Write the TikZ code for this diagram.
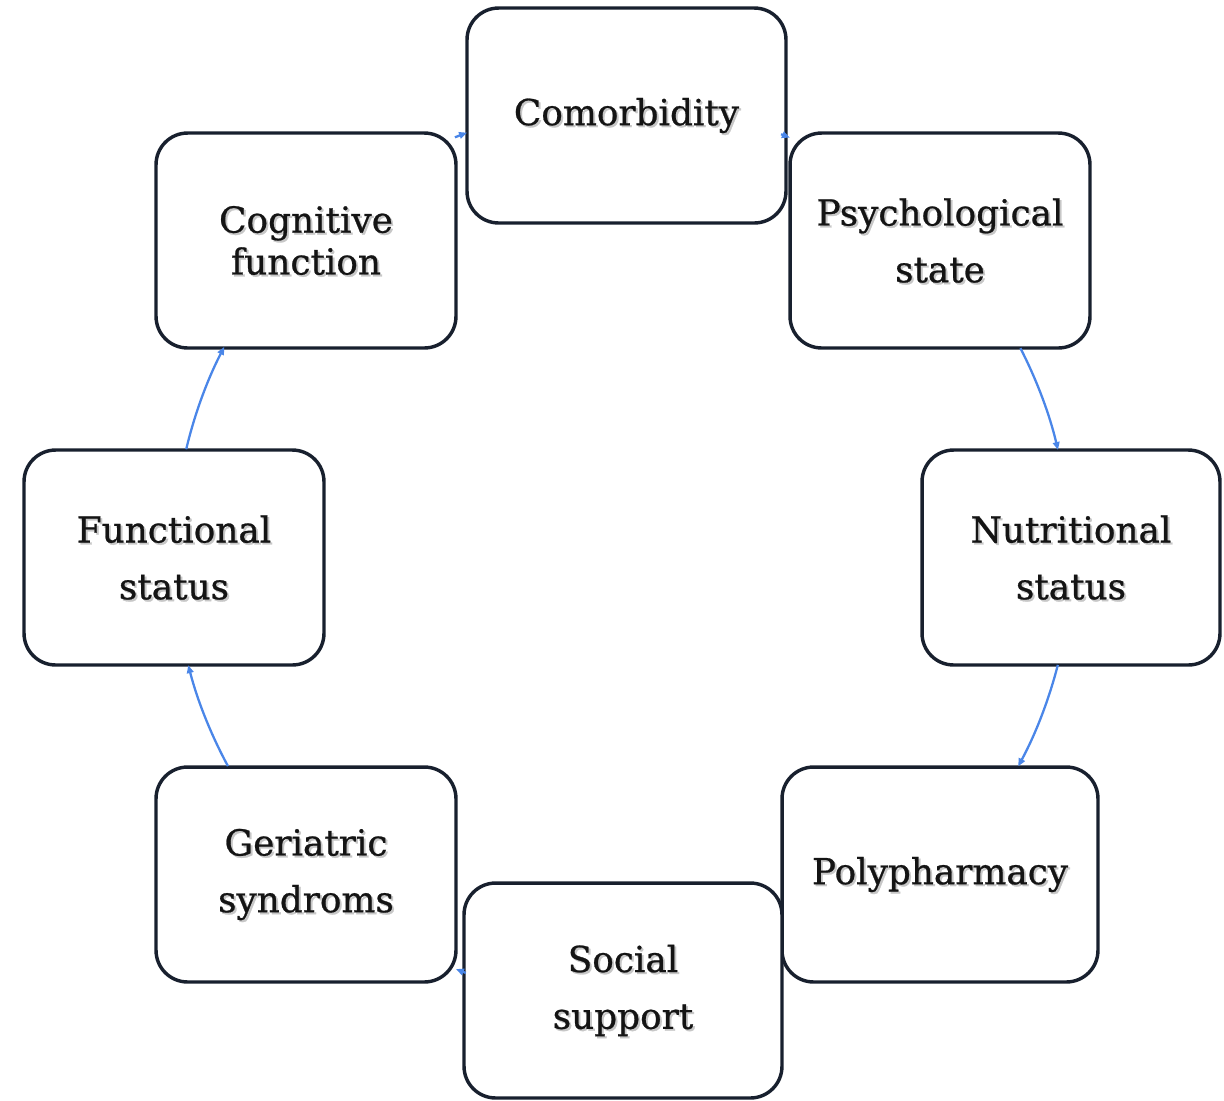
\documentclass[tikz,border=0pt]{standalone}
\usepackage{fontspec}
\setmainfont{DejaVu Serif}
\newfontfamily\cardfont{DejaVu Serif}[FakeBold=0.7]
\usetikzlibrary{arrows.meta}
\definecolor{edgeink}{HTML}{18202E}
\definecolor{cyclink}{HTML}{4A86E8}
% text with a soft grey offset copy behind it
\newcommand\shd[1]{\leavevmode\rlap{\raisebox{-1.1pt}[0pt][0pt]{\hspace{1.1pt}\textcolor{black!22}{#1}}}#1}
\begin{document}
\begin{tikzpicture}[x=0.02cm,y=0.02cm,
  card/.style={draw=edgeink, line width=1.95pt, fill=white, rounded corners=18pt,
    minimum height=4.3cm, minimum width=6cm, align=center, inner sep=0pt,
    font=\cardfont\fontsize{20.4}{32.3}\selectfont, text=black!92},
  link/.style={draw=cyclink, line width=1.3pt, -{Triangle[length=4.5pt,width=3.8pt]}}]
\useasboundingbox (0,0) rectangle (1224,-1100);
\coordinate (ctr) at (622,-553);

% the eight factor cards
\node[card, minimum width=6.38cm] (com) at (626.5,-115.5) {\shd{Comorbidity}};
\node[card] (psy) at (940,-240.5) {\shd{Psychological}\\\shd{state}};
\node[card, minimum width=5.96cm] (nut) at (1071,-557.5) {\shd{Nutritional}\\\shd{status}};
\node[card, minimum width=6.32cm] (pol) at (940,-874.5) {\shd{Polypharmacy}};
\node[card, minimum width=6.36cm] (soc) at (623,-990.5) {\shd{Social}\\\shd{support}};
\node[card] (ger) at (306,-874.5) {\shd{Geriatric}\\\shd{syndroms}};
\node[card] (fun) at (174,-557.5) {\shd{Functional}\\\shd{status}};
\node[card, font=\cardfont\fontsize{20.4}{23.8}\selectfont] (cog) at (306,-240.5) {\shd{Cognitive}\\\shd{function}};

% clockwise cycle arcs on a common circle around ctr
\draw[link] ([shift={(69.2:448)}]ctr) arc[start angle=69.2, end angle=68.0, radius=448];
\draw[link] ([shift={(27.2:448)}]ctr) arc[start angle=27.2, end angle=13.3, radius=448];
\draw[link] ([shift={(-14.4:450)}]ctr) arc[start angle=-14.4, end angle=-28.3, radius=450];
\draw[link] ([shift={(249.6:448)}]ctr) arc[start angle=249.6, end angle=248.25, radius=448];
\draw[link] ([shift={(208.4:448)}]ctr) arc[start angle=208.4, end angle=194.5, radius=448];
\draw[link] ([shift={(166.6:448)}]ctr) arc[start angle=166.6, end angle=152.6, radius=448];
\draw[link] ([shift={(111.9:448)}]ctr) arc[start angle=111.9, end angle=110.24, radius=448];
\end{tikzpicture}
\end{document}
